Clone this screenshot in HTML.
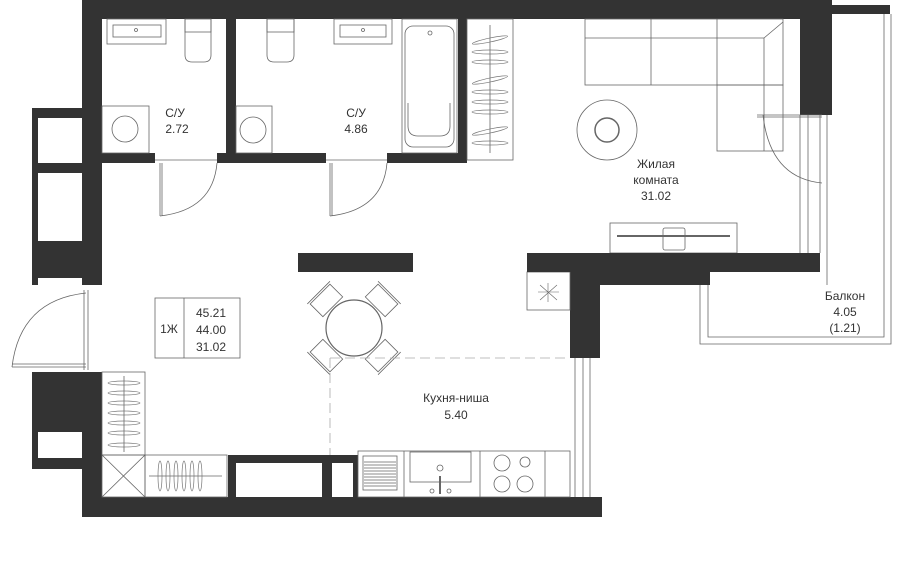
<!DOCTYPE html>
<html><head><meta charset="utf-8"><style>
html,body{margin:0;padding:0;background:#fff;}
svg{display:block;}
text{font-family:"Liberation Sans",sans-serif;fill:#333;font-size:12px;text-anchor:middle;}
</style></head><body>
<svg width="900" height="577" viewBox="0 0 900 577" xmlns="http://www.w3.org/2000/svg">
<g fill="#333">
<rect x="82" y="0" width="750" height="19"/>
<rect x="832" y="5" width="58" height="9"/>
<rect x="82" y="0" width="20" height="165"/>
<rect x="32" y="108" width="70" height="177"/>
<rect x="32" y="372" width="70" height="97"/>
<rect x="82" y="372" width="20" height="145"/>
<rect x="82" y="497" width="520" height="20"/>
<rect x="226" y="0" width="10" height="163"/>
<rect x="458" y="0" width="9" height="163"/>
<rect x="82" y="153" width="73" height="10"/>
<rect x="217" y="153" width="109" height="10"/>
<rect x="387" y="153" width="80" height="10"/>
<rect x="800" y="0" width="32" height="115"/>
<rect x="298" y="253" width="115" height="19"/>
<rect x="570" y="272" width="140" height="13"/>
<rect x="570" y="272" width="30" height="86"/>
<rect x="228" y="455" width="102" height="42"/>
<rect x="330" y="455" width="28" height="42"/>
</g>
<g fill="#fff">
<rect x="38" y="118" width="44" height="45"/>
<rect x="38" y="173" width="44" height="68"/>
<rect x="38" y="278" width="44" height="8"/>
<rect x="38" y="432" width="44" height="26"/>
<rect x="236" y="463" width="86" height="34"/>
<rect x="332" y="463" width="21" height="34"/>
</g>
<g fill="none" stroke="#666" stroke-width="0.8">
<rect x="107" y="19" width="59" height="25"/><rect x="113" y="25" width="48" height="12"/>
<circle cx="136" cy="30" r="1.5"/>
<path d="M185 19 V55 Q185 62 192 62 H204 Q211 62 211 55 V19"/><rect x="185" y="19" width="26" height="13"/>
<rect x="102" y="106" width="47" height="47"/><circle cx="125" cy="129" r="13"/>
<path d="M267 19 V55 Q267 62 274 62 H287 Q294 62 294 55 V19"/><rect x="267" y="19" width="27" height="13"/>
<rect x="334" y="19" width="58" height="25"/><rect x="340" y="25" width="46" height="12"/>
<circle cx="363" cy="30" r="1.5"/>
<rect x="402" y="19" width="55" height="134"/>
<rect x="405" y="26" width="49" height="121" rx="8"/>
<path d="M408 103 V126 Q408 136 418 136 H440 Q450 136 450 126 V103"/>
<circle cx="430" cy="33" r="2"/>
<rect x="236" y="106" width="36" height="47"/><circle cx="253" cy="130" r="13"/>
<path d="M160 163 V216 M162 163 V216 M160 216 Q213 210 217 163"/>
<path d="M330 163 V216 M332 163 V216 M330 216 Q383 210 387 163"/>
<line x1="155" y1="160" x2="217" y2="160"/><line x1="326" y1="160" x2="387" y2="160"/>
<rect x="467" y="19" width="46" height="141"/>
<line x1="490" y1="25" x2="490" y2="153"/>
<rect x="585" y="19" width="198" height="66"/>
<line x1="585" y1="38" x2="764" y2="38"/>
<line x1="651" y1="19" x2="651" y2="85"/><line x1="717" y1="19" x2="717" y2="85"/>
<rect x="717" y="85" width="66" height="66"/>
<line x1="764" y1="38" x2="764" y2="151"/><line x1="764" y1="38" x2="783" y2="22"/>
<circle cx="607" cy="130" r="30"/><circle cx="607" cy="130" r="12" stroke-width="1.5"/>
<rect x="610" y="223" width="127" height="30"/>
<line x1="617" y1="236" x2="730" y2="236" stroke-width="2"/>
<rect x="663" y="228" width="22" height="22" rx="2"/>
<path d="M700 285 V344 H891 V14"/>
<path d="M708 285 V337 H884 V14"/>
<path d="M800 115 V253 M808 115 V253 M827 115 V285 M820 115 V253"/>
<path d="M757 115 H822 M757 117 H822 M763 115 Q770 178 822 183"/>
<rect x="527" y="272" width="43" height="38"/>
<path d="M540 285 L557 300 M557 285 L540 300 M548 283 V302 M538 292 H559" stroke-width="0.6"/>
<path d="M575 358 V497 M583 358 V497 M590 358 V497"/>
<path d="M84 290 V370 M88 290 V370"/>
<path d="M12 367 H86 M12 364 H86 M12 367 Q20 300 86 293"/>
<circle cx="354" cy="328" r="28" stroke-width="1.2"/>
<g transform="translate(354 328)">
<g transform="rotate(45)"><path d="M-14 -30 H14 V-48 H-14 Z M-16 -50 H16"/></g>
<g transform="rotate(135)"><path d="M-14 -30 H14 V-48 H-14 Z M-16 -50 H16"/></g>
<g transform="rotate(225)"><path d="M-14 -30 H14 V-48 H-14 Z M-16 -50 H16"/></g>
<g transform="rotate(315)"><path d="M-14 -30 H14 V-48 H-14 Z M-16 -50 H16"/></g>
</g>
<rect x="155" y="298" width="85" height="60"/><line x1="184" y1="298" x2="184" y2="358"/>
<path d="M330 358 H570 M330 358 V455" stroke="#aaa" stroke-dasharray="10 5"/>
<rect x="358" y="451" width="212" height="46"/>
<line x1="404" y1="451" x2="404" y2="497"/><line x1="480" y1="451" x2="480" y2="497"/><line x1="545" y1="451" x2="545" y2="497"/>
<rect x="363" y="456" width="34" height="34"/>
<path d="M364 462H396M364 465H396M364 468H396M364 471H396M364 474H396M364 477H396M364 480H396M364 483H396M364 486H396"/>
<rect x="410" y="452" width="61" height="30"/>
<circle cx="440" cy="468" r="3"/><line x1="440" y1="476" x2="440" y2="494" stroke-width="2"/>
<circle cx="432" cy="491" r="2"/><circle cx="449" cy="491" r="2"/>
<circle cx="502" cy="463" r="8"/><circle cx="525" cy="462" r="5"/>
<circle cx="502" cy="484" r="8"/><circle cx="525" cy="484" r="8"/>
<rect x="102" y="372" width="43" height="83"/><line x1="124" y1="376" x2="124" y2="452"/>
<rect x="102" y="455" width="43" height="42"/><path d="M102 455 L145 497 M145 455 L102 497"/>
<rect x="145" y="455" width="82" height="42"/><line x1="149" y1="476" x2="222" y2="476"/>
</g>
<g fill="none" stroke="#777" stroke-width="0.7">
<ellipse cx="490" cy="40" rx="18" ry="2" transform="rotate(-12 490 40)"/>
<ellipse cx="490" cy="52" rx="18" ry="2"/><ellipse cx="490" cy="62" rx="18" ry="2"/>
<ellipse cx="490" cy="80" rx="18" ry="2" transform="rotate(-12 490 80)"/>
<ellipse cx="490" cy="92" rx="18" ry="2"/><ellipse cx="490" cy="102" rx="18" ry="2"/><ellipse cx="490" cy="112" rx="18" ry="2"/>
<ellipse cx="490" cy="131" rx="18" ry="2" transform="rotate(-12 490 131)"/>
<ellipse cx="490" cy="143" rx="18" ry="2"/>
<ellipse cx="124" cy="383" rx="16" ry="2"/><ellipse cx="124" cy="393" rx="16" ry="2"/><ellipse cx="124" cy="403" rx="16" ry="2"/>
<ellipse cx="124" cy="413" rx="16" ry="2"/><ellipse cx="124" cy="423" rx="16" ry="2"/><ellipse cx="124" cy="433" rx="16" ry="2"/><ellipse cx="124" cy="445" rx="16" ry="2"/>
<ellipse cx="160" cy="476" rx="2" ry="15"/><ellipse cx="168" cy="476" rx="2" ry="15"/><ellipse cx="176" cy="476" rx="2" ry="15"/>
<ellipse cx="184" cy="476" rx="2" ry="15"/><ellipse cx="192" cy="476" rx="2" ry="15"/><ellipse cx="200" cy="476" rx="2" ry="15"/>
</g>
<text x="175" y="117">С/У</text><text x="177" y="133">2.72</text>
<text x="356" y="117">С/У</text><text x="356" y="133">4.86</text>
<text x="656" y="168">Жилая</text><text x="656" y="184">комната</text><text x="656" y="200">31.02</text>
<text x="845" y="300">Балкон</text><text x="845" y="316">4.05</text><text x="845" y="332">(1.21)</text>
<text x="169" y="333" font-size="13">1Ж</text>
<text x="211" y="317" font-size="13">45.21</text><text x="211" y="334" font-size="13">44.00</text><text x="211" y="351" font-size="13">31.02</text>
<text x="456" y="402">Кухня-ниша</text><text x="456" y="419">5.40</text>
<g fill="#333"><rect x="527" y="253" width="293" height="19"/></g>
</svg>
</body></html>
